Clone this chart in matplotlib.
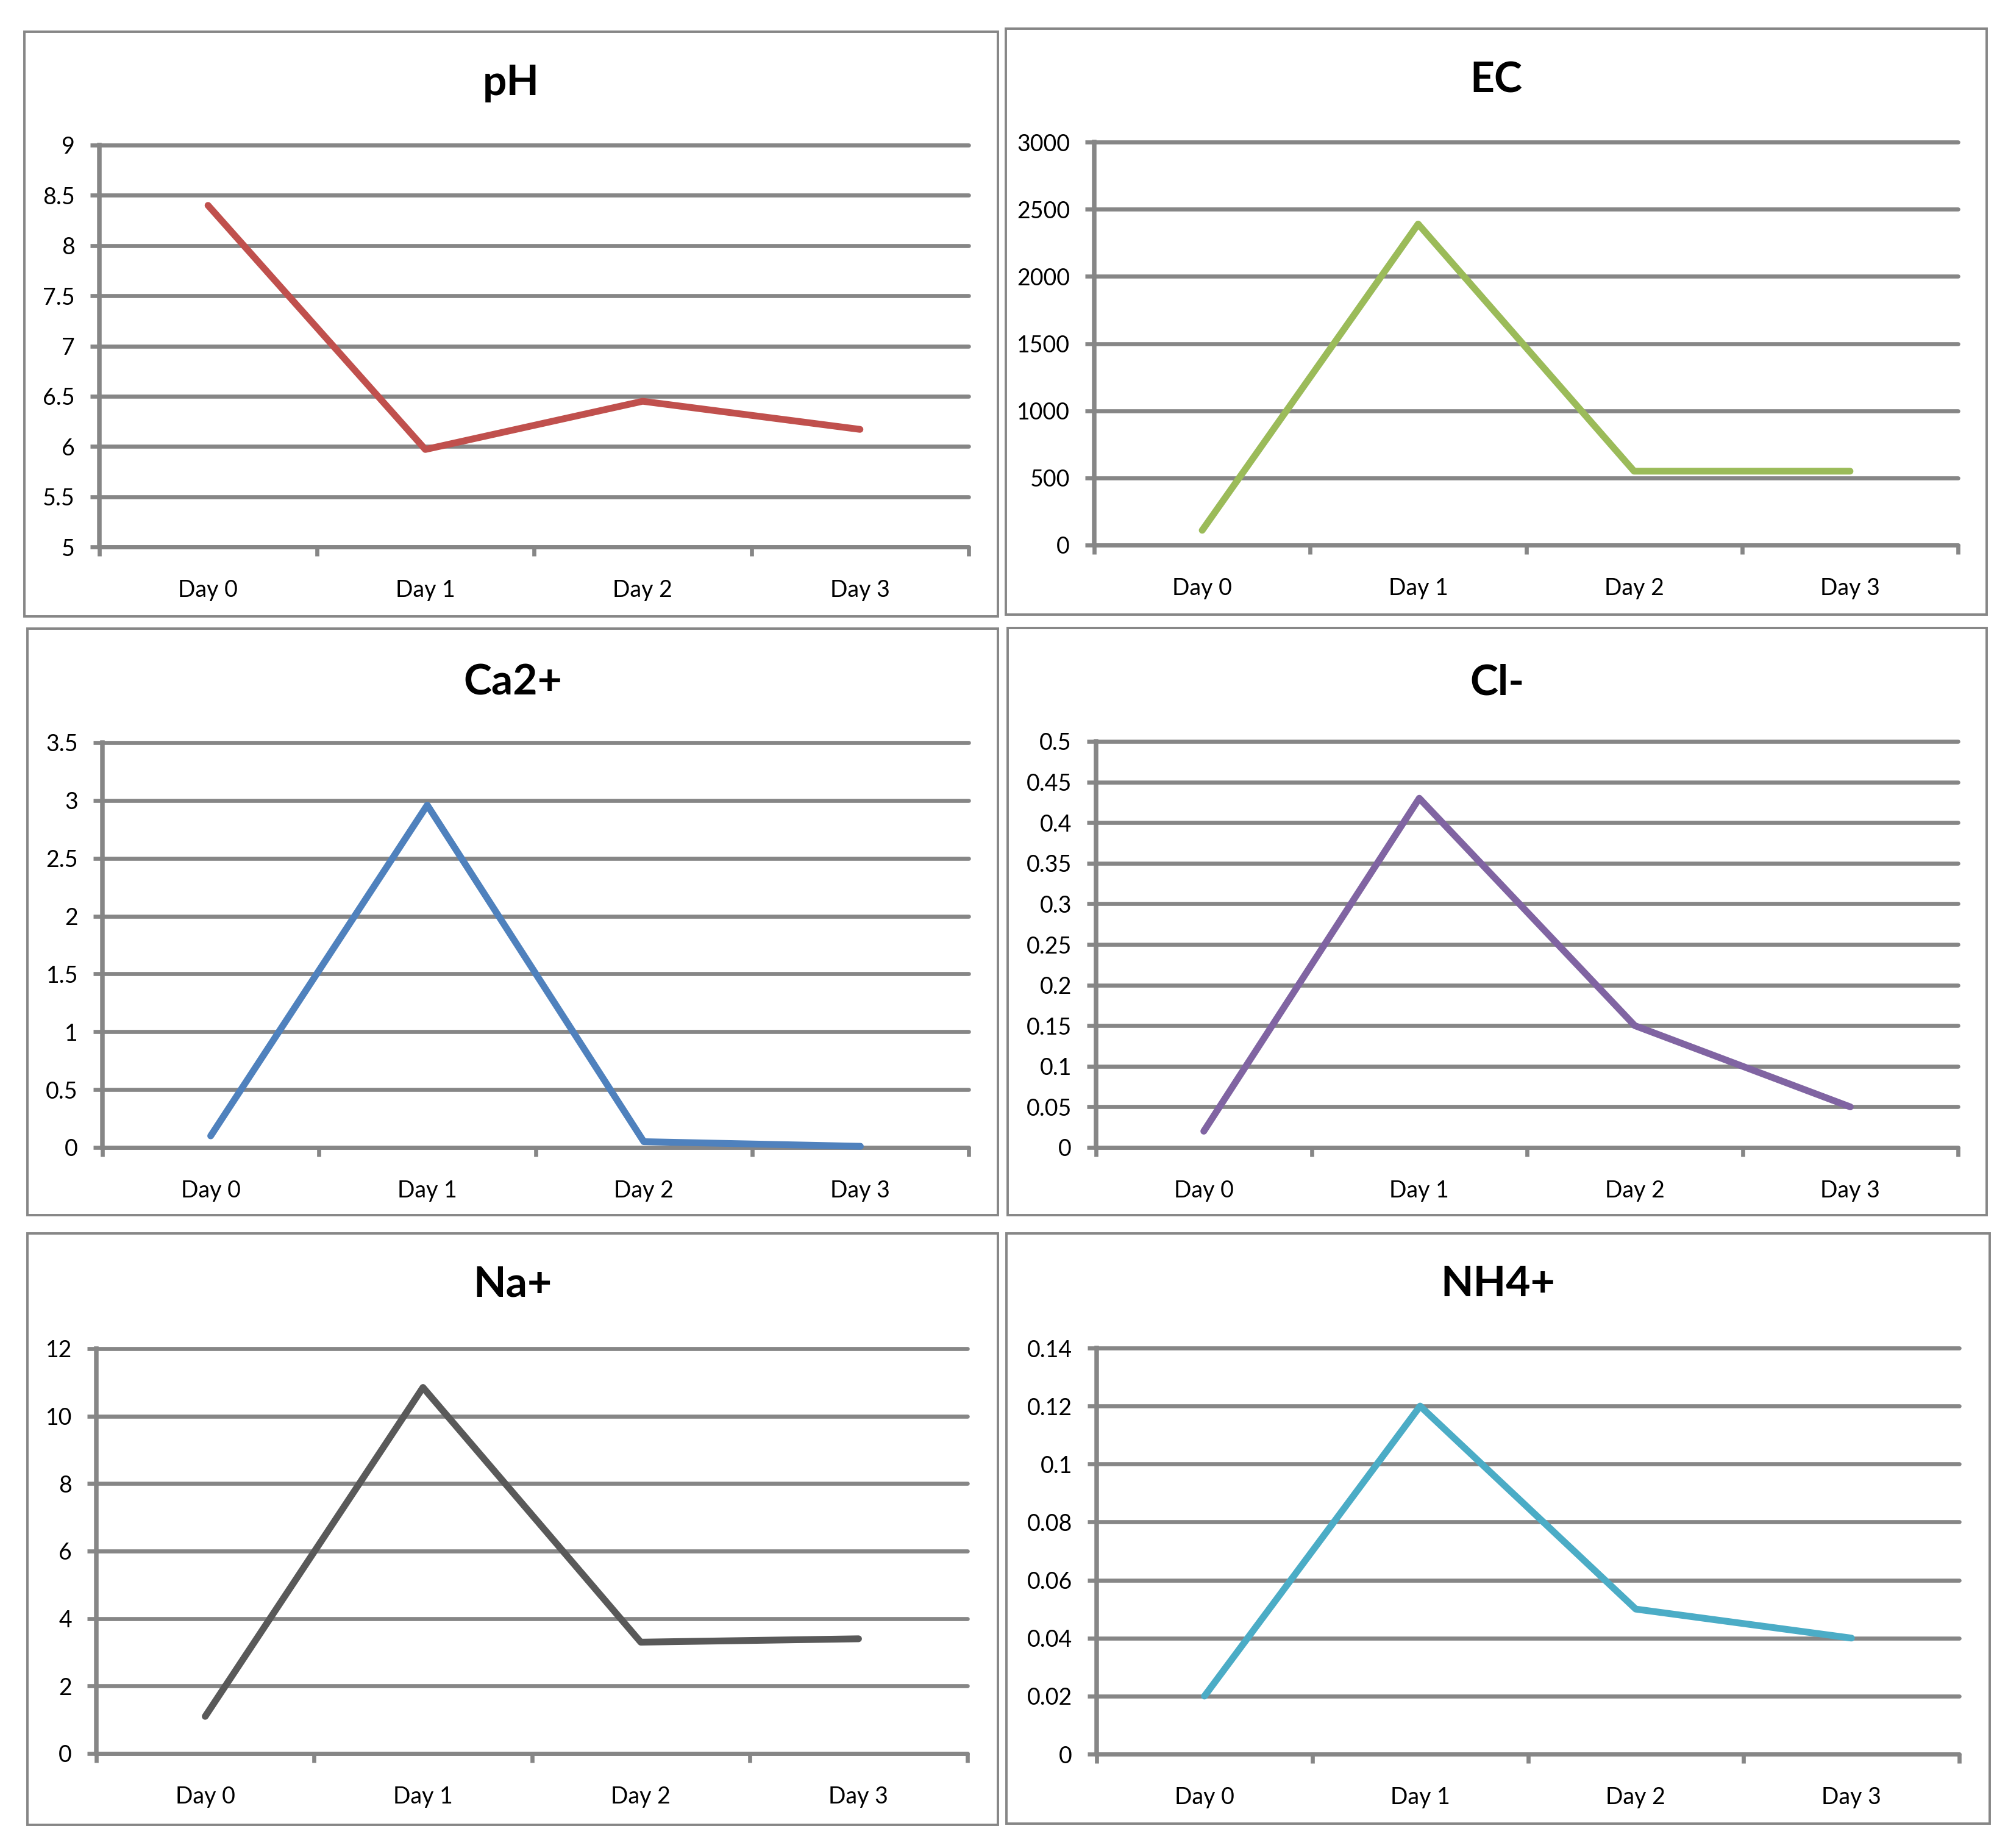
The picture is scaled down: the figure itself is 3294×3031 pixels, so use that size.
import matplotlib
matplotlib.use('Agg')
import matplotlib.pyplot as plt
import numpy as np
from matplotlib.patches import Rectangle
from matplotlib.ticker import FixedLocator, FuncFormatter

# 数据
days = ['Day 0', 'Day 1', 'Day 2', 'Day 3']
titles = ['pH', 'EC', 'Ca2+', 'Cl-', 'Na+', 'NH4+']
ph = [8.4, 5.97, 6.45, 6.17]
ec = [110, 2390, 550, 550]
ca = [0.1, 2.96, 0.05, 0.01]
cl = [0.02, 0.43, 0.15, 0.05]
na = [1.1, 10.85, 3.3, 3.4]
nh4 = [0.02, 0.12, 0.05, 0.04]
series = [ph, ec, ca, cl, na, nh4]
# y 轴范围 (最小, 最大, 步长)
y_ranges = [(5, 9, 0.5), (0, 3000, 500), (0, 3.5, 0.5),
            (0, 0.5, 0.05), (0, 12, 2), (0, 0.14, 0.02)]
colors = ['#C0504D', '#9BBB59', '#4F81BD', '#8064A2', '#595959', '#4BACC6']

W, H = 3294, 3031
# 外框和绘图区位置 (像素)
boxes = [(40, 52, 1637, 1011), (1650, 47, 3259, 1008),
         (45, 1031, 1637, 1993), (1653, 1030, 3259, 1993),
         (45, 2023, 1637, 2993), (1651, 2023, 3264, 2991)]
plots = [(163, 238, 1589, 897), (1795, 233, 3212, 894),
         (168, 1218, 1589, 1882), (1798, 1216, 3212, 1882),
         (158, 2212, 1587, 2876), (1799, 2211, 3214, 2877)]
title_y = [137, 132, 1120, 1120, 2107, 2107]

plt.rcParams['font.family'] = ['Lato', 'DejaVu Sans']
GRID = '#868686'

fig = plt.figure(figsize=(W / 200, H / 200), dpi=200)


def fx(x):
    return x / W


def fy(y):
    return 1 - y / H


for i in range(6):
    bx0, by0, bx1, by1 = boxes[i]
    fig.add_artist(Rectangle((fx(bx0), fy(by1)), fx(bx1 - bx0), (by1 - by0) / H,
                             transform=fig.transFigure, fill=False,
                             edgecolor=GRID, linewidth=1.4))
    fig.text(fx((bx0 + bx1) / 2), fy(title_y[i]), titles[i], ha='center', va='center',
             fontsize=25, fontweight='bold')

    px0, py0, px1, py1 = plots[i]
    ax = fig.add_axes([fx(px0), fy(py1), fx(px1 - px0), (py1 - py0) / H])
    lo, hi, step = y_ranges[i]
    yt = np.round(np.arange(lo, hi + step / 2, step), 4)

    x = np.arange(len(days))
    ax.plot(x, series[i], color=colors[i], linewidth=4.0,
            solid_capstyle='round', solid_joinstyle='round', clip_on=False, zorder=3)

    ax.set_xlim(-0.5, len(days) - 0.5)
    ax.set_ylim(lo, hi)
    ax.xaxis.set_major_locator(FixedLocator(np.arange(-0.5, len(days), 1.0)))
    ax.xaxis.set_minor_locator(FixedLocator(x))
    ax.set_xticklabels([])
    ax.set_xticklabels(days, minor=True)
    ax.yaxis.set_major_locator(FixedLocator(yt))
    ax.yaxis.set_major_formatter(FuncFormatter(lambda v, p: f'{v:g}'))

    ax.tick_params(axis='x', which='major', direction='out', length=5.4, width=2.4, color=GRID)
    ax.tick_params(axis='x', which='minor', length=0, labelsize=13.5, pad=19)
    ax.tick_params(axis='y', direction='out', length=5.4, width=2.4, color=GRID,
                   labelsize=13.5, pad=9)

    ax.grid(True, axis='y', color=GRID, linewidth=2.4, solid_capstyle='round', clip_on=False)
    ax.set_axisbelow(True)
    for s in ['top', 'right']:
        ax.spines[s].set_visible(False)
    ax.spines['left'].set_color(GRID)
    ax.spines['left'].set_linewidth(2.7)
    ax.spines['bottom'].set_color(GRID)
    ax.spines['bottom'].set_linewidth(2.4)
    ax.spines['bottom'].set_capstyle('round')
    ax.patch.set_alpha(0)

fig.savefig('out.png', dpi=200, facecolor='white')
